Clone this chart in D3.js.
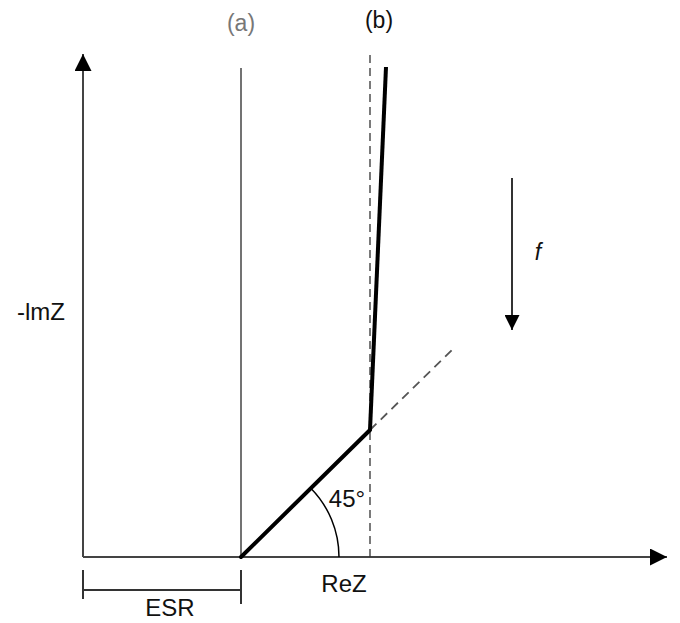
<!DOCTYPE html>
<html><head><meta charset="utf-8">
<script src="https://cdn.jsdelivr.net/npm/d3@7"></script>
<style>body{margin:0;background:#fff}svg{display:block}text{font-family:"Liberation Sans",Arial,sans-serif}</style>
</head><body>
<script>
// schematic Nyquist values (arbitrary units, equal scale on both axes)
const esr = [158];
const warburg = [[158, 0], [287, 127]];          // 45° Warburg segment
const capacitive = [[287, 127], [303, 490]];     // near-vertical capacitive branch
const warburgExt = [[287, 127], [369, 207]];     // dashed 45° continuation
const idealLineA = [[158, 0], [158, 489]];       // (a) ideal capacitor
const idealLineB = [[287, 0], [287, 505]];       // (b) asymptote
const freqArrow = [[429, 379], [429, 227]];
const labels = ["(a)", "(b)", "-lmZ", "ReZ", "ESR", "45°", "f"];

const W = 680, H = 623;
const svg = d3.select("body").append("svg").attr("width", W).attr("height", H);
const x = d3.scaleLinear().domain([0, 584]).range([83, 667]);
const y = d3.scaleLinear().domain([0, 503]).range([557, 54]);
const line = d3.line().x(d => x(d[0])).y(d => y(d[1]));

const defs = svg.append("defs");
defs.append("marker").attr("id", "ah").attr("viewBox", "0 0 10 10").attr("refX", 10).attr("refY", 5)
  .attr("markerWidth", 17).attr("markerHeight", 17).attr("markerUnits", "userSpaceOnUse").attr("orient", "auto")
  .append("path").attr("d", "M0,0L10,5L0,10Z").attr("fill", "#000");
defs.append("marker").attr("id", "ah2").attr("viewBox", "0 0 10 10").attr("refX", 10).attr("refY", 5)
  .attr("markerWidth", 15).attr("markerHeight", 15).attr("markerUnits", "userSpaceOnUse").attr("orient", "auto")
  .append("path").attr("d", "M0,0L10,5L0,10Z").attr("fill", "#000");

// axes
svg.append("path").attr("d", line([[0, 0], [584, 0]])).attr("stroke", "#444").attr("stroke-width", 2).attr("fill", "none").attr("marker-end", "url(#ah)");
svg.append("path").attr("d", line([[0, 0], [0, 503]])).attr("stroke", "#444").attr("stroke-width", 2).attr("fill", "none").attr("marker-end", "url(#ah)");

// (a) line
svg.append("path").attr("d", line(idealLineA)).attr("stroke", "#444").attr("stroke-width", 1.5).attr("fill", "none");
// (b) dashed
svg.append("path").attr("d", line(idealLineB)).attr("stroke", "#333").attr("stroke-width", 1.3).attr("stroke-dasharray", "8,5").attr("fill", "none");
// dashed 45 extension
svg.append("path").attr("d", line(warburgExt)).attr("stroke", "#555").attr("stroke-width", 1.8).attr("stroke-dasharray", "9,6").attr("fill", "none");

// thick curve
svg.append("path").attr("d", line(warburg)).attr("stroke", "#000").attr("stroke-width", 4).attr("fill", "none").attr("stroke-linecap", "round");
svg.append("path").attr("d", line(capacitive)).attr("stroke", "#000").attr("stroke-width", 4).attr("fill", "none");

// 45° arc
const r = x(esr[0] + 98) - x(esr[0]);
const arc = d3.arc().innerRadius(r).outerRadius(r).startAngle(Math.PI / 4).endAngle(Math.PI / 2);
svg.append("path").attr("transform", `translate(${x(esr[0])},${y(0)})`).attr("d", arc()).attr("stroke", "#000").attr("stroke-width", 1.5).attr("fill", "none");

// ESR bracket
const by = 590;
svg.append("path").attr("d", `M${x(0)},${by}H${x(esr[0])}`).attr("stroke", "#333").attr("stroke-width", 2);
svg.append("path").attr("d", `M${x(0)},${570}V${599}`).attr("stroke", "#333").attr("stroke-width", 2);
svg.append("path").attr("d", `M${x(esr[0])},${570}V${604}`).attr("stroke", "#333").attr("stroke-width", 2);

// frequency arrow
svg.append("path").attr("d", line(freqArrow)).attr("stroke", "#333").attr("stroke-width", 2).attr("fill", "none").attr("marker-end", "url(#ah2)");

// texts
const t = (s, px, py, opts = {}) => svg.append("text").attr("x", px).attr("y", py).attr("text-anchor", opts.anchor || "middle")
  .attr("font-size", opts.size || 24).attr("fill", opts.fill || "#111").attr("font-style", opts.italic ? "italic" : null).text(s);
t(labels[0], x(esr[0]), 31, { fill: "#777", size: 23 });
t(labels[1], 379, 28, { fill: "#111", size: 23 });
t(labels[2], 65, 320, { anchor: "end" });
t(labels[3], 344, 592);
t(labels[4], 170, 616);
t(labels[5], 347, 507);
t(labels[6], 538, 260, { italic: true, size: 23 });
</script>
</body></html>
